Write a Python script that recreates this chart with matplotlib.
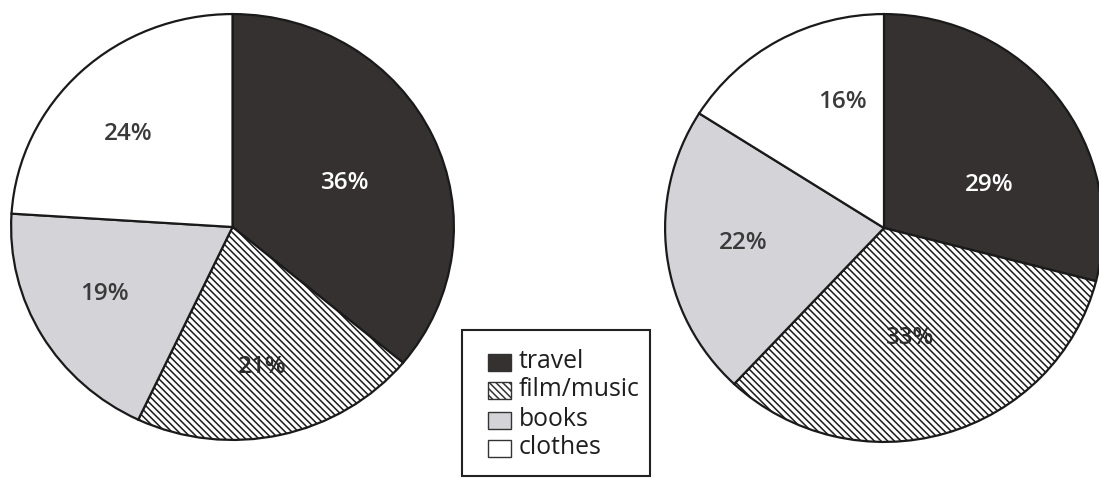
import numpy as np
import matplotlib
matplotlib.use("Agg")
import matplotlib.pyplot as plt
from matplotlib.patches import Rectangle

categories = ["travel", "film/music", "books", "clothes"]
left_values = [36, 21, 19, 24]
right_values = [29, 33, 22, 16]

face = ["#353131", "#ffffff", "#d4d4d8", "#ffffff"]
hatches = [None, "\\\\\\\\\\", None, None]
txt_col = ["#ffffff", "#2a2a2a", "#3a3a3a", "#3a3a3a"]

# label placement styling (radius fraction, clockwise angle shift in degrees)
left_lab_r = [0.55, 0.67, 0.66, 0.64]
left_lab_off = [3, 1, 2, -4]
right_lab_r = [0.52, 0.53, 0.645, 0.62]
right_lab_off = [15, 3, 1, 11]

plt.rcParams["hatch.linewidth"] = 1.1
plt.rcParams["hatch.color"] = "#3c3c3c"
plt.rcParams["font.family"] = ["Open Sans", "DejaVu Sans"]

W, H = 1099, 478
fig = plt.figure(figsize=(W / 100, H / 100), dpi=100)


def pix_axes(x0, x1, y0, y1):
    return fig.add_axes([x0 / W, (H - y1) / H, (x1 - x0) / W, (y1 - y0) / H])


def draw(ax, values, lab_r, lab_off):
    wedges, texts, autotexts = ax.pie(
        values, radius=1, startangle=90, counterclock=False,
        colors=face, autopct="%d%%", pctdistance=0.6,
        wedgeprops=dict(edgecolor="#1a1a1a", linewidth=1.6),
        textprops=dict(fontsize=17.5, fontweight="semibold"))
    for w, h in zip(wedges, hatches):
        if h:
            w.set_hatch(h)
    for w, t, c, r, off in zip(wedges, autotexts, txt_col, lab_r, lab_off):
        t.set_color(c)
        mid = np.deg2rad((w.theta1 + w.theta2) / 2 - off)
        t.set_position((r * np.cos(mid), r * np.sin(mid)))
    ax.set_aspect("auto")
    ax.set_xlim(-1.005, 1.005)
    ax.set_ylim(-1.005, 1.005)
    ax.axis("off")
    return wedges


axl = pix_axes(10, 455, 13, 441)
draw(axl, left_values, left_lab_r, left_lab_off)
axr = pix_axes(664, 1104, 13, 443)
draw(axr, right_values, right_lab_r, right_lab_off)

# legend drawn in pixel coordinates on an overlay axes
lax = fig.add_axes([0, 0, 1, 1], zorder=5)
lax.set_xlim(0, W)
lax.set_ylim(H, 0)
lax.axis("off")
lax.add_patch(Rectangle((462, 330), 188, 146, facecolor="white",
                        edgecolor="#222222", linewidth=1.5))
row_y = [362, 390, 420, 448]
for c, h, lab, y in zip(face, hatches, categories, row_y):
    lax.add_patch(Rectangle((488, y - 8.5), 23, 17, facecolor=c, edgecolor="#333333",
                            hatch=h, linewidth=1.0))
    lax.text(519, y, lab, fontsize=17.8, va="center", ha="left", color="#1e1e1e")

fig.savefig("out.png", dpi=100)
